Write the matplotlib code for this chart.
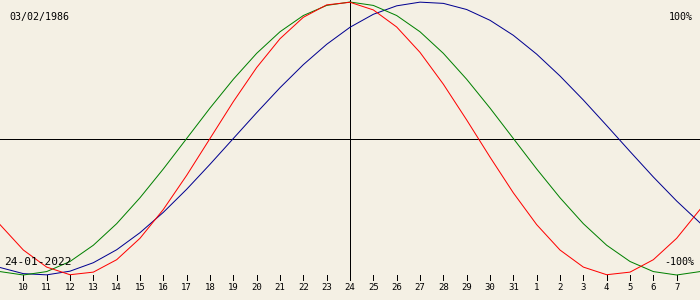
#!/usr/bin/env python3
"""Biorhythm chart: physical / emotional / intellectual curves around 24-01-2022."""
import matplotlib
matplotlib.use("Agg")
import matplotlib.pyplot as plt

birth_label = "03/02/1986"
date_label = "24-01-2022"

# day offsets from the selected date (-15 .. +15), one sample per day
offsets = list(range(-15, 16))
day_labels = ["10", "11", "12", "13", "14", "15", "16", "17", "18", "19", "20",
              "21", "22", "23", "24", "25", "26", "27", "28", "29", "30", "31",
              "1", "2", "3", "4", "5", "6", "7"]
label_offsets = list(range(-14, 15))

physical = [-0.631, -0.817, -0.942, -0.998, -0.979, -0.888, -0.731, -0.520,
            -0.270, 0.000, 0.270, 0.520, 0.731, 0.888, 0.979, 0.998, 0.942,
            0.817, 0.631, 0.398, 0.136, -0.136, -0.398, -0.631, -0.817,
            -0.942, -0.998, -0.979, -0.888, -0.731, -0.520]
emotional = [-0.975, -1.000, -0.975, -0.901, -0.782, -0.624, -0.434, -0.223,
             0.000, 0.223, 0.434, 0.624, 0.782, 0.901, 0.975, 1.000, 0.975,
             0.901, 0.782, 0.624, 0.434, 0.223, 0.000, -0.223, -0.434,
             -0.624, -0.782, -0.901, -0.975, -1.000, -0.975]
intellectual = [-0.945, -0.990, -0.999, -0.972, -0.910, -0.815, -0.690, -0.541,
                -0.372, -0.189, 0.000, 0.189, 0.372, 0.541, 0.690, 0.815, 0.910,
                0.972, 0.999, 0.990, 0.945, 0.866, 0.756, 0.618, 0.458, 0.282,
                0.095, -0.095, -0.282, -0.458, -0.618]

BG = "#f4f0e4"
MONO = "DejaVu Sans Mono"
LW = 0.72  # one pixel at 100 dpi

fig = plt.figure(figsize=(7, 3), dpi=100, facecolor=BG)
ax = fig.add_axes([0, 0, 1, 1])
ax.set_facecolor(BG)
ax.set_xlim(-15, 15)
ax.set_ylim(-1.1832, 1.0147)
ax.axis("off")

ax.axhline(0, color="black", linewidth=LW, antialiased=False)
trans = ax.get_xaxis_transform()
ax.vlines(0, 20 / 300, 1, transform=trans, color="black", linewidth=LW,
          antialiased=False)
ax.vlines(label_offsets, 20 / 300, 25 / 300, transform=trans, color="black",
          linewidth=LW, antialiased=False)
for x, lab in zip(label_offsets, day_labels):
    ax.text(x, 12 / 300, lab, transform=trans, ha="center", va="center",
            fontsize=6.5, family=MONO)

ax.plot(offsets, intellectual, color="#000090", linewidth=LW)
ax.plot(offsets, emotional, color="#008000", linewidth=LW)
ax.plot(offsets, physical, color="#ff0000", linewidth=LW)

fig.text(9 / 700, 1 - 17 / 300, birth_label, ha="left", va="center",
         fontsize=7.2, family=MONO)
fig.text(693 / 700, 1 - 17 / 300, "100%", ha="right", va="center",
         fontsize=7.2, family=MONO)
fig.text(4 / 700, 1 - 262 / 300, date_label, ha="left", va="center",
         fontsize=8, family=MONO)
fig.text(694 / 700, 1 - 262 / 300, "-100%", ha="right", va="center",
         fontsize=7.2, family=MONO)

fig.savefig("out.png", dpi=100, facecolor=BG)
